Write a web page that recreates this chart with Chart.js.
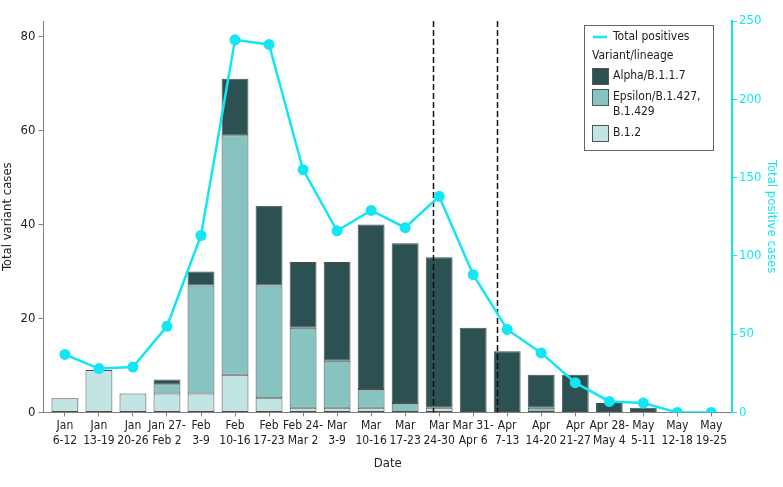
<!DOCTYPE html>
<html>
<head>
<meta charset="utf-8">
<script src="https://cdn.jsdelivr.net/npm/chart.js@4"></script>
<style>
  html, body { margin: 0; padding: 0; background: #fff; }
  #wrap { width: 783px; height: 487px; }
</style>
</head>
<body>
<div id="wrap"><canvas id="chart"></canvas></div>
<script>
// week labels (2 lines each)
const weeks = [
  ['Jan', '6-12'], ['Jan', '13-19'], ['Jan', '20-26'], ['Jan 27-', 'Feb 2'],
  ['Feb', '3-9'], ['Feb', '10-16'], ['Feb', '17-23'], ['Feb 24-', 'Mar 2'],
  ['Mar', '3-9'], ['Mar', '10-16'], ['Mar', '17-23'], ['Mar', '24-30'],
  ['Mar 31-', 'Apr 6'], ['Apr', '7-13'], ['Apr', '14-20'], ['Apr', '21-27'],
  ['Apr 28-', 'May 4'], ['May', '5-11'], ['May', '12-18'], ['May', '19-25']
];
// variant counts per week
const b12     = [3, 9, 4, 4, 4, 8, 3, 1, 1, 1, 0, 1, 0, 0, 0, 0, 0, 0, 0, 0];
const epsilon = [0, 0, 0, 2, 23, 51, 24, 17, 10, 4, 2, 0, 0, 0, 1, 0, 0, 0, 0, 0];
const alpha   = [0, 0, 0, 1, 3, 12, 17, 14, 21, 35, 34, 32, 18, 13, 7, 8, 2, 1, 0, 0];
// total positive cases (right axis)
const totalPositives = [37, 28, 29, 55, 113, 238, 235, 155, 116, 129, 118, 138, 88, 53, 38, 19, 7, 6, 0, 0];
// week positions (in week units) of the dashed reference lines
const markers = [10.82, 12.71];
const leftTicks = [0, 20, 40, 60, 80];
const rightTicks = [0, 50, 100, 150, 200, 250];

const CYAN = '#12e6f3';
const FONT = "'DejaVu Sans Condensed', 'DejaVu Sans', sans-serif";
const FS = 12;
const TEXT = '#222';
const AXIS = '#808080';

// drop empty segments so no zero-height bar gets drawn
function pts(arr) {
  return arr.map((v, i) => ({ x: i, y: v })).filter(p => p.y > 0);
}

const markerPlugin = {
  id: 'markers',
  beforeDatasetDraw(chart, args) {
    if (args.meta.type !== 'line') return;
    const ctx = chart.ctx, x = chart.scales.x, a = chart.chartArea;
    ctx.save();
    ctx.strokeStyle = '#111';
    ctx.lineWidth = 1.5;
    ctx.setLineDash([6, 3]);
    markers.forEach(m => {
      const px = Math.round(x.getPixelForValue(m)) + 0.5;
      ctx.beginPath();
      ctx.moveTo(px, a.top);
      ctx.lineTo(px, a.bottom);
      ctx.stroke();
    });
    ctx.restore();
  }
};

const legendPlugin = {
  id: 'boxLegend',
  afterDraw(chart) {
    const ctx = chart.ctx;
    const ds = chart.data.datasets;
    const L = 584, T = 25, W = 129, H = 125;
    ctx.save();
    ctx.fillStyle = '#fff';
    ctx.fillRect(L, T, W, H);
    ctx.strokeStyle = '#666';
    ctx.lineWidth = 1;
    ctx.strokeRect(L + 0.5, T + 0.5, W, H);
    ctx.font = FS + 'px ' + FONT;
    ctx.textBaseline = 'middle';
    ctx.fillStyle = TEXT;
    // line item
    ctx.strokeStyle = ds[3].borderColor;
    ctx.lineWidth = 2.5;
    ctx.beginPath();
    ctx.moveTo(L + 9, T + 12);
    ctx.lineTo(L + 23, T + 12);
    ctx.stroke();
    ctx.fillText(ds[3].label, L + 29, T + 12);
    ctx.fillText('Variant/lineage', L + 8, T + 31);
    const items = [
      { d: ds[2], y: T + 43, lines: [ds[2].label] },
      { d: ds[1], y: T + 64, lines: ['Epsilon/B.1.427,', 'B.1.429'] },
      { d: ds[0], y: T + 100, lines: [ds[0].label] }
    ];
    items.forEach(it => {
      ctx.fillStyle = it.d.backgroundColor;
      ctx.fillRect(L + 8, it.y, 16, 16);
      ctx.strokeStyle = '#555';
      ctx.lineWidth = 1;
      ctx.strokeRect(L + 8.5, it.y + 0.5, 16, 16);
      ctx.fillStyle = TEXT;
      it.lines.forEach((t, k) => ctx.fillText(t, L + 29, it.y + 8 + k * 15));
    });
    ctx.restore();
  }
};

const barCommon = {
  type: 'bar',
  yAxisID: 'y',
  borderColor: '#4d4d4d',
  borderWidth: 1,
  borderSkipped: false,
  barPercentage: 0.79,
  categoryPercentage: 1,
  order: 2
};

new Chart(document.getElementById('chart'), {
  data: {
    datasets: [
      Object.assign({}, barCommon, { label: 'B.1.2', data: pts(b12), backgroundColor: '#c2e5e3' }),
      Object.assign({}, barCommon, { label: 'Epsilon/B.1.427, B.1.429', data: pts(epsilon), backgroundColor: '#86c3c1' }),
      Object.assign({}, barCommon, { label: 'Alpha/B.1.1.7', data: pts(alpha), backgroundColor: '#2b5152' }),
      {
        type: 'line',
        label: 'Total positives',
        yAxisID: 'y1',
        data: totalPositives.map((v, i) => ({ x: i, y: v })),
        borderColor: CYAN,
        backgroundColor: CYAN,
        borderWidth: 2.5,
        pointRadius: 5.5,
        pointHoverRadius: 5.5,
        pointBorderWidth: 0,
        tension: 0,
        order: 1
      }
    ]
  },
  options: {
    responsive: true,
    maintainAspectRatio: false,
    animation: false,
    events: [],
    layout: { padding: { top: 21, right: 0, left: 0, bottom: 16 } },
    plugins: { legend: { display: false }, tooltip: { enabled: false } },
    scales: {
      x: {
        type: 'linear',
        stacked: true,
        offset: false,
        min: -0.63,
        max: 19.61,
        afterBuildTicks: s => { s.ticks = weeks.map((w, i) => ({ value: i })); },
        ticks: {
          autoSkip: false,
          maxRotation: 0,
          padding: 2,
          color: TEXT,
          font: { family: FONT, size: FS, lineHeight: 1.25 },
          callback: v => weeks[v]
        },
        grid: { offset: false, drawOnChartArea: false, drawTicks: true, tickLength: 4, color: AXIS },
        border: { color: AXIS, width: 1 },
        title: { display: true, text: 'Date', color: TEXT, font: { family: FONT, size: 13 }, padding: { top: 5, bottom: 0 } }
      },
      y: {
        position: 'left',
        stacked: true,
        min: 0,
        max: 83.3,
        afterBuildTicks: s => { s.ticks = leftTicks.map(v => ({ value: v })); },
        ticks: { color: TEXT, padding: 3, font: { family: FONT, size: 13 } },
        grid: { drawOnChartArea: false, drawTicks: true, tickLength: 5, color: AXIS },
        border: { color: AXIS, width: 1 },
        title: { display: true, text: 'Total variant cases', color: TEXT, font: { family: FONT, size: 13 }, padding: { top: 0, bottom: 2 } }
      },
      y1: {
        position: 'right',
        stacked: false,
        min: 0,
        max: 250,
        afterBuildTicks: s => { s.ticks = rightTicks.map(v => ({ value: v })); },
        ticks: { color: CYAN, padding: 2, font: { family: FONT, size: 13 } },
        grid: { drawOnChartArea: false, drawTicks: true, tickLength: 5, color: CYAN },
        border: { color: CYAN, width: 2 },
        title: { display: true, text: 'Total positive cases', color: CYAN, font: { family: FONT, size: 13 }, padding: { top: 4, bottom: 0 } }
      }
    }
  },
  plugins: [markerPlugin, legendPlugin]
});
</script>
</body>
</html>
